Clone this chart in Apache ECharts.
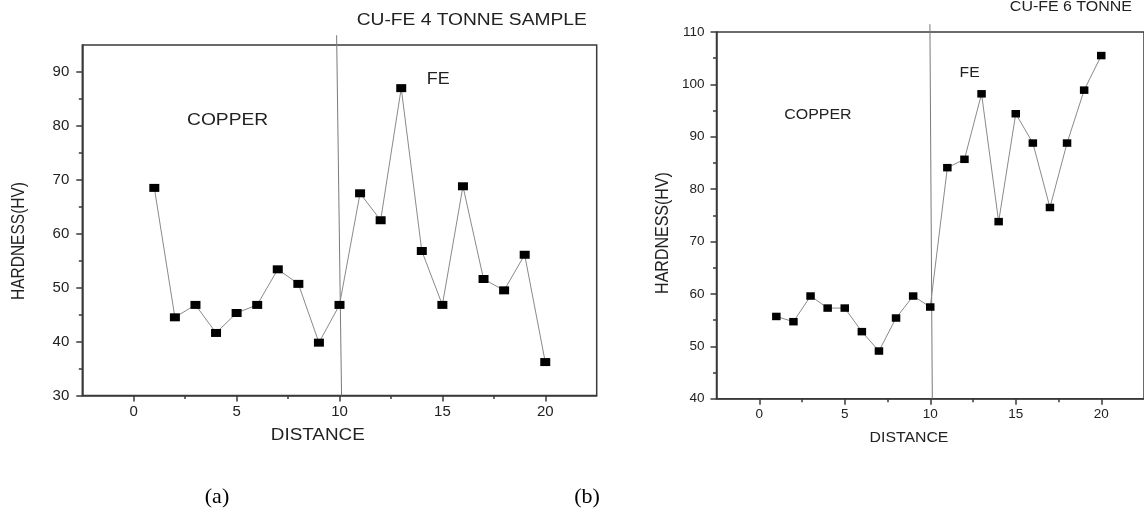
<!DOCTYPE html>
<html><head><meta charset="utf-8">
<script src="https://cdn.jsdelivr.net/npm/echarts@6/dist/echarts.min.js"></script>
<style>html,body{margin:0;padding:0;background:#fff}#c{width:1144px;height:523px}</style>
</head><body><div id="c"></div>
<script>
// ---- data ----
const distance = [1,2,3,4,5,6,7,8,9,10,11,12,13,14,15,16,17,18,19,20];
const hardness4T = [68.5,44.5,46.8,41.6,45.3,46.8,53.4,50.7,39.8,46.8,67.5,62.5,87.0,56.8,46.8,68.8,51.6,49.5,56.1,36.2];
const hardness6T = [55.7,54.7,59.6,57.3,57.3,52.8,49.1,55.4,59.6,57.5,84.1,85.7,98.2,73.8,94.4,88.8,76.5,88.8,98.9,105.5];
const xMajorTicks = [0,5,10,15,20];
const xMinorTicks = [2.5,7.5,12.5,17.5];
const yMajorLeft = [30,40,50,60,70,80,90];
const yMinorLeft = [35,45,55,65,75,85];
const yMajorRight = [40,50,60,70,80,90,100,110];
const yMinorRight = [45,55,65,75,85,95,105];
const dividerLeft = [[9.86,96.8],[10.10,30]];
const dividerRight = [[9.98,111.5],[10.12,40]];
const titles = ['CU-FE 4 TONNE SAMPLE','CU-FE 6 TONNE'];
const xName = 'DISTANCE';
const yName = 'HARDNESS(HV)';
const annLeft = [['COPPER',4.56,81.0],['FE',14.8,88.6]];
const annRight = [['COPPER',3.43,94.2],['FE',12.3,102.2]];
const panelLabels = ['(a)','(b)'];

const FONT = '"Liberation Sans", Arial, sans-serif';
const AX = '#3a3a3a';
const TXT = '#222';

function xAxes(grid, fs){
  return [
    {type:'value', gridIndex:grid, position:'bottom', min:-2.5, max:22.5,
     axisLine:{show:true,onZero:false,lineStyle:{color:AX,width:1.5}},
     axisTick:{show:true,inside:false,length:6,customValues:xMajorTicks,lineStyle:{color:AX,width:1.5}},
     axisLabel:{show:true,customValues:xMajorTicks,margin:8.5,fontSize:fs,fontFamily:FONT,color:TXT},
     splitLine:{show:false}},
    {type:'value', gridIndex:grid, position:'bottom', min:-2.5, max:22.5,
     axisLine:{show:false,onZero:false},
     axisTick:{show:true,inside:false,length:3.5,customValues:xMinorTicks,lineStyle:{color:AX,width:1.5}},
     axisLabel:{show:false}, splitLine:{show:false}}
  ];
}
function yAxes(grid, min, max, major, minor, fs, margin){
  return [
    {type:'value', gridIndex:grid, position:'left', min:min, max:max,
     axisLine:{show:true,onZero:false,lineStyle:{color:AX,width:1.5}},
     axisTick:{show:true,inside:false,length:6,customValues:major,lineStyle:{color:AX,width:1.5}},
     axisLabel:{show:true,customValues:major,margin:margin,fontSize:fs,fontFamily:FONT,color:TXT},
     splitLine:{show:false}},
    {type:'value', gridIndex:grid, position:'left', min:min, max:max,
     axisLine:{show:false,onZero:false},
     axisTick:{show:true,inside:false,length:3.5,customValues:minor,lineStyle:{color:AX,width:1.5}},
     axisLabel:{show:false}, splitLine:{show:false}}
  ];
}

const chart = echarts.init(document.getElementById('c'), null, {renderer:'canvas'});
const option = {
  animation:false,
  backgroundColor:'#fff',
  grid:[
    {left:82.3, top:45, width:514.4, height:350.5, show:true, borderColor:AX, borderWidth:1.5, backgroundColor:'transparent'},
    {left:716.5, top:32, width:428.5, height:366.7, show:true, borderColor:AX, borderWidth:1.5, backgroundColor:'transparent'}
  ],
  xAxis:[...xAxes(0,15), ...xAxes(1,13.5)],
  yAxis:[...yAxes(0,30,95,yMajorLeft,yMinorLeft,15,13), ...yAxes(1,40,110,yMajorRight,yMinorRight,13.5,12)],
  series:[
    {type:'line', xAxisIndex:0, yAxisIndex:0, data:dividerLeft, clip:false, symbol:'none', silent:true,
     lineStyle:{color:'#7a7a7a', width:1}, z:1},
    {type:'line', xAxisIndex:2, yAxisIndex:2, data:dividerRight, clip:false, symbol:'none', silent:true,
     lineStyle:{color:'#7a7a7a', width:1}, z:1},
    {type:'line', xAxisIndex:0, yAxisIndex:0, data:distance.map((d,i)=>[d,hardness4T[i]]),
     symbol:'rect', symbolSize:[10,8], itemStyle:{color:'#000'}, lineStyle:{color:'#8a8a8a', width:1}, z:3},
    {type:'line', xAxisIndex:2, yAxisIndex:2, data:distance.map((d,i)=>[d,hardness6T[i]]),
     symbol:'rect', symbolSize:[8.5,7.5], itemStyle:{color:'#000'}, lineStyle:{color:'#8a8a8a', width:1}, z:3}
  ]
};
chart.setOption(option);

function txt(text, x, y, size, sx, extra){
  return Object.assign({type:'text', x:x, y:y, scaleX:sx||1, z:10,
    style:{text:text, font:size+'px '+FONT, fill:TXT, align:'center', verticalAlign:'middle'}}, extra||{});
}
const g = [];
g.push(txt(titles[0], 471.7, 20.7, 16, 1.2));
g.push(txt(titles[1], 1070.9, 6.7, 14, 1.14));
g.push(txt(xName, 317.8, 436, 16, 1.18));
g.push(txt(xName, 909, 438, 14, 1.13));
g.push(txt(yName, 19.3, 241, 15.5, 1, {rotation:Math.PI/2, scaleY:1.2}));
g.push(txt(yName, 663.4, 233, 16, 1, {rotation:Math.PI/2, scaleY:1.15}));
annLeft.forEach(a=>{
  const p = chart.convertToPixel({xAxisIndex:0, yAxisIndex:0}, [a[1],a[2]]);
  g.push(txt(a[0], p[0], p[1], 16, a[0]==='FE'?1.12:1.2));
});
annRight.forEach(a=>{
  const p = chart.convertToPixel({xAxisIndex:2, yAxisIndex:2}, [a[1],a[2]]);
  g.push(txt(a[0], p[0], p[1], 14, a[0]==='FE'?1.12:1.14));
});
g.push({type:'text', x:217, y:497, z:10, style:{text:panelLabels[0], font:'22px "Liberation Serif", "Times New Roman", serif', fill:'#000', align:'center', verticalAlign:'middle'}});
g.push({type:'text', x:587, y:497, z:10, style:{text:panelLabels[1], font:'22px "Liberation Serif", "Times New Roman", serif', fill:'#000', align:'center', verticalAlign:'middle'}});
chart.setOption({graphic:g});
</script>
</body></html>
